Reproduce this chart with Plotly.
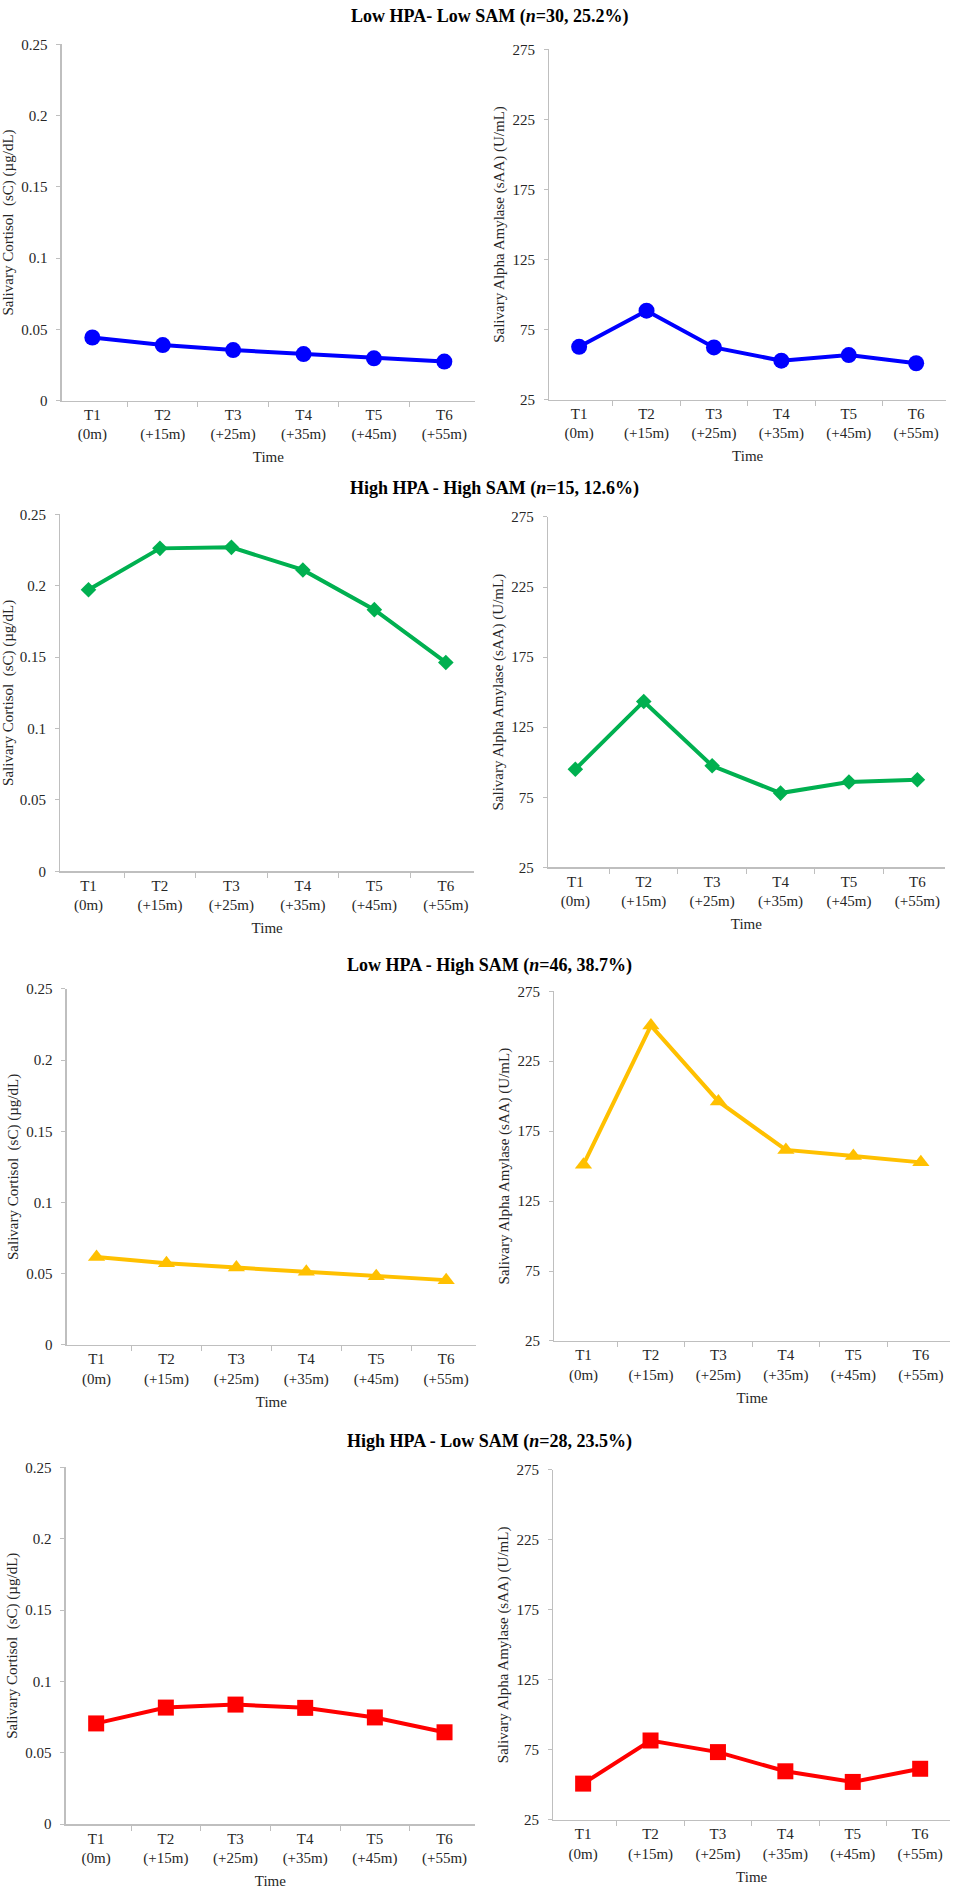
import plotly.graph_objects as go

W, H = 954, 1895

# ---------------- data ----------------
time_labels = ["T1<br>(0m)", "T2<br>(+15m)", "T3<br>(+25m)", "T4<br>(+35m)", "T5<br>(+45m)", "T6<br>(+55m)"]

group_titles = [
    "Low HPA- Low SAM (<i>n</i>=30, 25.2%)",
    "High HPA - High SAM (<i>n</i>=15, 12.6%)",
    "Low HPA - High SAM (<i>n</i>=46, 38.7%)",
    "High HPA - Low SAM (<i>n</i>=28, 23.5%)",
]

cortisol_lowhpa_lowsam = [0.0443, 0.0390, 0.0355, 0.0327, 0.0297, 0.0274]
cortisol_highhpa_highsam = [0.1972, 0.2262, 0.2269, 0.2111, 0.1833, 0.1463]
cortisol_lowhpa_highsam = [0.0617, 0.0573, 0.0543, 0.0513, 0.0483, 0.0455]
cortisol_highhpa_lowsam = [0.0706, 0.0817, 0.0838, 0.0815, 0.0748, 0.0644]

amylase_lowhpa_lowsam = [62.7, 88.5, 62.3, 52.8, 56.8, 51.0]
amylase_highhpa_highsam = [95.0, 143.4, 97.5, 78.0, 85.9, 87.5]
amylase_lowhpa_highsam = [151.0, 250.5, 196.3, 161.6, 157.3, 152.7]
amylase_highhpa_lowsam = [50.9, 81.7, 73.4, 59.7, 52.1, 61.5]

cortisol_series = [cortisol_lowhpa_lowsam, cortisol_highhpa_highsam,
                   cortisol_lowhpa_highsam, cortisol_highhpa_lowsam]
amylase_series = [amylase_lowhpa_lowsam, amylase_highhpa_highsam,
                  amylase_lowhpa_highsam, amylase_highhpa_lowsam]

cortisol_ticks = [0, 0.05, 0.1, 0.15, 0.2, 0.25]
amylase_ticks = [25, 75, 125, 175, 225, 275]

cortisol_title = "Salivary Cortisol \u00a0(sC) (µg/dL)"
amylase_title = "Salivary Alpha Amylase (sAA) (U/mL)"
x_title = "Time"

# ---------------- styles ----------------
colors = ["#0000FF", "#00B050", "#FFC000", "#FF0000"]
symbols = ["circle", "diamond", "triangle-up", "square"]
msizes = [16, 12, 15, 16]

# plot areas in pixels: (x0, x1, y_top, y_bottom)
left_boxes = [(61.7, 475, 36.7, 396), (60.3, 474, 510.7, 870.7),
              (66.7, 476, 989.3, 1348.3), (65.7, 475, 1471.7, 1831.7)]
right_boxes = [(549.3, 946, 41.7, 395), (548, 944.7, 513.3, 866.7),
               (554.3, 950, 991.7, 1344.3), (553.3, 950, 1474.3, 1827.3)]
title_pos = [(489, 9), (494, 485), (489, 966), (489, 1446)]

FONT = "Liberation Serif, Times New Roman, serif"
TXT = "#262626"
AX = "#BFBFBF"

fig = go.Figure()
layout = {}


def xd(a, b):
    return [a / W, b / W]


def yd(top, bot):
    return [1 - bot / H, 1 - top / H]


n = 0
for i in range(4):
    for side in range(2):
        n += 1
        sfx = "" if n == 1 else str(n)
        if side == 0:
            box = left_boxes[i]
            vals = cortisol_series[i]
            ticks = cortisol_ticks
            rng = [0, 0.25]
            ytitle = cortisol_title
        else:
            box = right_boxes[i]
            vals = amylase_series[i]
            ticks = amylase_ticks
            rng = [25, 275]
            ytitle = amylase_title
        fig.add_trace(go.Scatter(
            x=time_labels, y=vals, mode="lines+markers",
            xaxis="x" + sfx, yaxis="y" + sfx,
            line=dict(color=colors[i], width=4),
            marker=dict(symbol=symbols[i], size=msizes[i], color=colors[i]),
            showlegend=False, cliponaxis=False,
        ))
        layout["xaxis" + sfx] = dict(
            domain=xd(box[0], box[1]), anchor="y" + sfx,
            type="category", categoryorder="array", categoryarray=time_labels,
            showline=True, linecolor=AX, linewidth=1.3,
            ticks="outside", ticklen=5, tickcolor=AX, tickson="boundaries",
            showgrid=False, zeroline=False,
            tickfont=dict(family=FONT, size=15, color=TXT),
            title=dict(text=x_title, font=dict(family=FONT, size=15, color=TXT), standoff=9),
            fixedrange=True,
        )
        layout["yaxis" + sfx] = dict(
            domain=yd(box[2], box[3]), anchor="x" + sfx,
            range=rng, tickmode="array", tickvals=ticks,
            showline=True, linecolor=AX, linewidth=1.3,
            ticks="outside", ticklen=4, tickcolor=AX,
            showgrid=False, zeroline=False,
            tickfont=dict(family=FONT, size=15, color=TXT),
            ticklabelstandoff=6,
            title=dict(text=ytitle, font=dict(family=FONT, size=15, color=TXT), standoff=4),
            fixedrange=True,
        )

annotations = []
for i in range(4):
    annotations.append(dict(
        text="<b>" + group_titles[i] + "</b>",
        x=title_pos[i][0] / W, y=1 - title_pos[i][1] / H,
        xref="paper", yref="paper", xanchor="center", yanchor="middle",
        showarrow=False, font=dict(family=FONT, size=18, color="#000000"),
    ))

fig.update_layout(
    width=W, height=H,
    margin=dict(l=0, r=0, t=0, b=0),
    paper_bgcolor="white", plot_bgcolor="white",
    annotations=annotations,
    hovermode=False,
    **layout,
)

fig.write_html(
    "out.html",
    config={"displayModeBar": False, "staticPlot": True},
    post_script="document.body.style.margin='0px';document.body.style.overflow='hidden';",
)
